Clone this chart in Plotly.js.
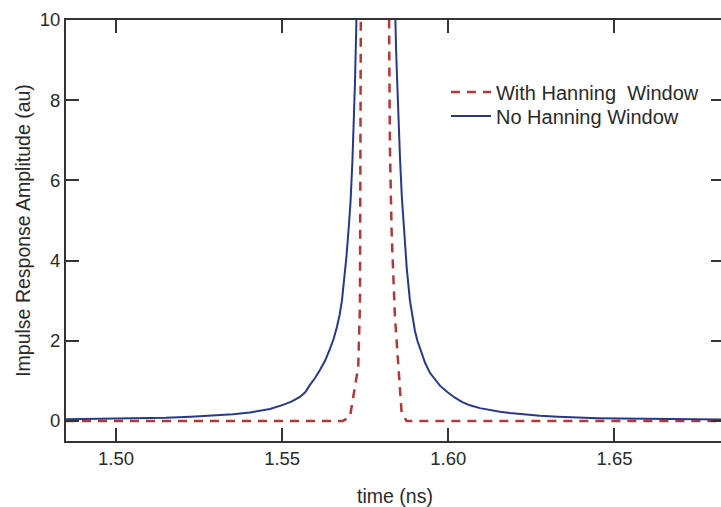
<!DOCTYPE html>
<html>
<head>
<meta charset="utf-8">
<script src="https://cdn.plot.ly/plotly-3.0.1.min.js"></script>
<style>
html, body { margin: 0; padding: 0; overflow: hidden; background: #fff; }
#chart { width: 726px; height: 507px; }
</style>
</head>
<body>
<div id="chart"></div>
<script>
// time (ns) and amplitude (au)
const noHanningTime = [1.48496, 1.50000, 1.51504, 1.52256, 1.53008, 1.53520, 1.54031, 1.54332, 1.54633, 1.55024, 1.55280, 1.55535, 1.55700, 1.55836, 1.55990, 1.56137, 1.56290, 1.56438, 1.56550, 1.56649, 1.56730, 1.56799, 1.56870, 1.56935, 1.57010, 1.57060, 1.57115, 1.57150, 1.57190, 1.57235, 1.57280, 1.57837, 1.58364, 1.58394, 1.58430, 1.58469, 1.58505, 1.58544, 1.58600, 1.58664, 1.58750, 1.58845, 1.58920, 1.58995, 1.59070, 1.59146, 1.59300, 1.59446, 1.59600, 1.59747, 1.59970, 1.60199, 1.60420, 1.60650, 1.60950, 1.61252, 1.61553, 1.61853, 1.62300, 1.62756, 1.63300, 1.63869, 1.64500, 1.65162, 1.65900, 1.66667, 1.67500, 1.68295];
const noHanningAmp  = [0.04, 0.055, 0.08, 0.105, 0.14, 0.17, 0.21, 0.25, 0.30, 0.40, 0.48, 0.60, 0.72, 0.90, 1.07, 1.27, 1.50, 1.80, 2.05, 2.35, 2.65, 3.0, 3.5, 4.1, 4.9, 5.5, 6.5, 7.3, 8.4, 10.0, 11.5, 60, 11.5, 10.3, 9.2, 8.3, 7.4, 6.6, 5.6, 4.7, 3.8, 3.0, 2.6, 2.25, 2.0, 1.8, 1.45, 1.2, 1.02, 0.88, 0.72, 0.58, 0.47, 0.39, 0.32, 0.27, 0.23, 0.20, 0.16, 0.13, 0.105, 0.085, 0.07, 0.06, 0.052, 0.045, 0.04, 0.035];

const hanningTime = [1.48496, 1.50000, 1.52000, 1.54000, 1.56000, 1.56829, 1.57040, 1.57289, 1.57341, 1.57371, 1.57792, 1.58213, 1.58243, 1.58294, 1.58394, 1.58493, 1.58595, 1.58745, 1.60000, 1.62000, 1.64000, 1.66000, 1.68295];
const hanningAmp  = [0, 0, 0, 0, 0, 0, 0.1, 1.35, 2.9, 11, 40, 10.5, 6.8, 4.7, 2.6, 1.35, 0.2, 0, 0, 0, 0, 0, 0];

const xTickVals = [1.50, 1.55, 1.60, 1.65];
const xTickText = ["1.50", "1.55", "1.60", "1.65"];
const yTickVals = [0, 2, 4, 6, 8, 10];

const axisColor = '#333333';
const textColor = '#2a2a2a';
const fontFamily = '"Liberation Sans", Arial, sans-serif';

const traces = [
  {
    x: hanningTime, y: hanningAmp, type: 'scatter', mode: 'lines',
    name: 'With Hanning\u00a0 Window', legend: 'legend',
    line: { color: '#b3383b', width: 2.5, dash: '9px,7px' }
  },
  {
    x: noHanningTime, y: noHanningAmp, type: 'scatter', mode: 'lines',
    name: 'No Hanning Window', legend: 'legend2',
    line: { color: '#28388a', width: 2 }
  }
];

const legendCommon = {
  xanchor: 'left', yanchor: 'middle',
  bgcolor: 'rgba(0,0,0,0)', borderwidth: 0, itemwidth: 40,
  font: { size: 20, color: textColor, family: fontFamily }
};

const layout = {
  width: 726, height: 507,
  margin: { l: 66, r: 2, t: 20, b: 66 },
  paper_bgcolor: '#fff', plot_bgcolor: '#fff',
  font: { family: fontFamily, color: textColor, size: 18 },
  showlegend: true,
  legend: Object.assign({ x: 0.5775, y: 1 - 72 / 421 }, legendCommon),
  legend2: Object.assign({ x: 0.5775, y: 1 - 96 / 421 }, legendCommon),
  xaxis: {
    range: [1.48496, 1.68295],
    tickvals: xTickVals, ticktext: xTickText,
    ticks: 'inside', ticklen: 13, tickwidth: 2, tickcolor: axisColor,
    showline: true, linecolor: axisColor, linewidth: 2, mirror: 'allticks',
    showgrid: false, zeroline: false,
    tickfont: { size: 18.5, color: textColor },
    title: { text: 'time (ns)', font: { size: 19.5, color: textColor }, standoff: 22 }
  },
  yaxis: {
    range: [-0.5, 10],
    tickvals: yTickVals,
    ticks: 'inside', ticklen: 13, tickwidth: 2, tickcolor: axisColor,
    showline: true, linecolor: axisColor, linewidth: 2, mirror: 'allticks',
    showgrid: false, zeroline: false,
    tickfont: { size: 18.5, color: textColor },
    title: { text: 'Impulse Response Amplitude (au)', font: { size: 19.5, color: textColor }, standoff: 4 }
  }
};

Plotly.newPlot('chart', traces, layout, { displayModeBar: false, staticPlot: true });
</script>
</body>
</html>
